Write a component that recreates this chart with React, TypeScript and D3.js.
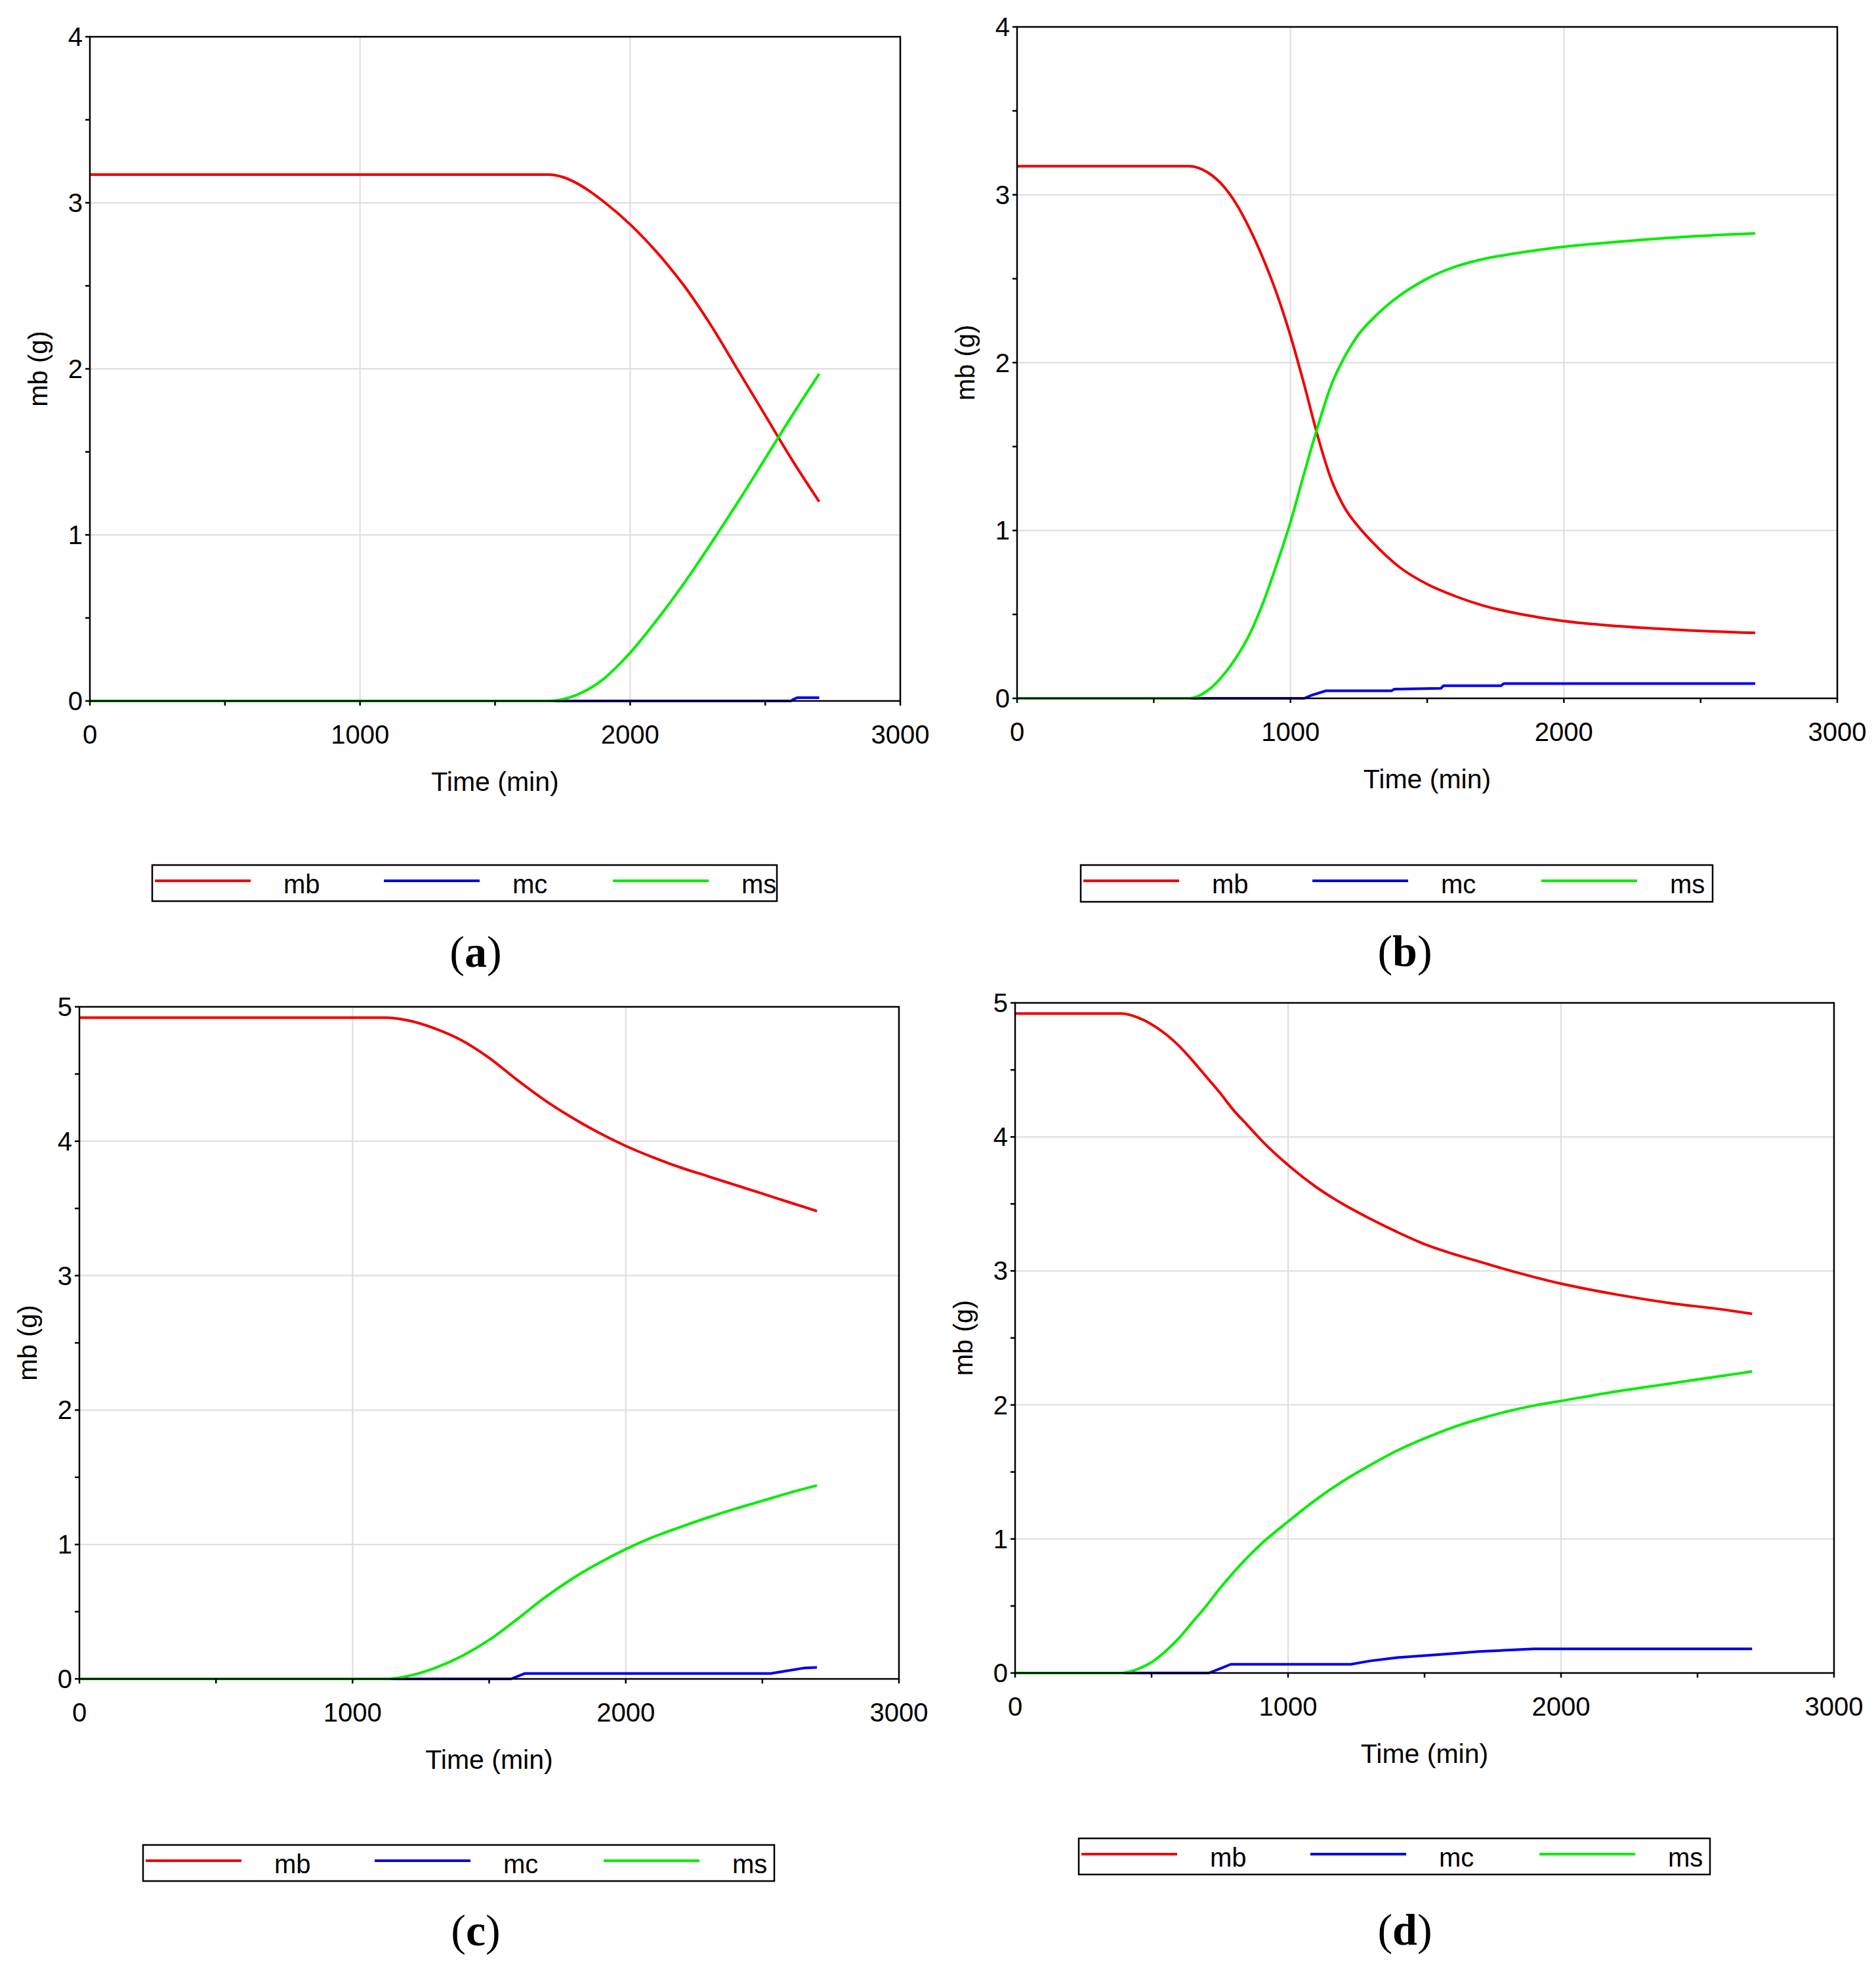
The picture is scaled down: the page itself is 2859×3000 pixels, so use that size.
import * as d3 from "d3";

type Pt = [number, number];

// ---- data (time in min, mass in g) ----
const panelLetters = ["a", "b", "c", "d"];
const seriesNames = ["mb", "mc", "ms"];
const xTickLabels = [0, 1000, 2000, 3000];
const yMaxByPanel = [4, 4, 5, 5];

const mbA: Pt[] = [[0, 3.17], [1700, 3.17], [1750, 3.155], [1800, 3.12], [1850, 3.07], [1900, 3.01], [2000, 2.87], [2100, 2.7], [2200, 2.5], [2300, 2.26], [2400, 1.99], [2500, 1.72], [2600, 1.45], [2700, 1.2]];
const mcA: Pt[] = [[0, 0], [2595, 0], [2605, 0.01], [2620, 0.02], [2700, 0.02]];
const msA: Pt[] = [[0, 0], [1700, 0], [1750, 0.01], [1800, 0.035], [1850, 0.075], [1900, 0.13], [1950, 0.205], [2000, 0.29], [2100, 0.49], [2200, 0.71], [2300, 0.95], [2400, 1.2], [2500, 1.46], [2600, 1.72], [2700, 1.97]];

const mbB: Pt[] = [[0, 3.17], [630, 3.17], [700, 3.13], [750, 3.06], [800, 2.95], [850, 2.8], [900, 2.62], [950, 2.41], [1000, 2.16], [1050, 1.87], [1100, 1.56], [1150, 1.3], [1200, 1.13], [1250, 1.02], [1300, 0.93], [1400, 0.78], [1500, 0.68], [1600, 0.61], [1700, 0.555], [1800, 0.515], [1900, 0.485], [2000, 0.46], [2200, 0.43], [2400, 0.41], [2700, 0.39]];
const mcB: Pt[] = [[0, 0], [1050, 0], [1080, 0.02], [1130, 0.045], [1370, 0.045], [1380, 0.055], [1550, 0.06], [1560, 0.075], [1770, 0.075], [1780, 0.088], [2700, 0.088]];
const msB: Pt[] = [[0, 0], [630, 0], [700, 0.05], [750, 0.13], [800, 0.24], [850, 0.38], [900, 0.57], [950, 0.8], [1000, 1.05], [1050, 1.34], [1100, 1.62], [1150, 1.87], [1200, 2.04], [1250, 2.17], [1300, 2.26], [1400, 2.4], [1500, 2.5], [1600, 2.57], [1700, 2.615], [1800, 2.645], [1900, 2.67], [2000, 2.69], [2200, 2.72], [2400, 2.745], [2700, 2.77]];

const mbC: Pt[] = [[0, 4.92], [1120, 4.92], [1200, 4.9], [1300, 4.84], [1400, 4.75], [1500, 4.62], [1600, 4.46], [1700, 4.31], [1800, 4.18], [1900, 4.065], [2000, 3.965], [2100, 3.88], [2200, 3.805], [2300, 3.74], [2400, 3.675], [2500, 3.61], [2600, 3.545], [2700, 3.48]];
const mcC: Pt[] = [[0, 0], [1580, 0], [1630, 0.04], [2530, 0.04], [2560, 0.05], [2650, 0.08], [2700, 0.085]];
const msC: Pt[] = [[0, 0], [1130, 0], [1200, 0.02], [1300, 0.08], [1400, 0.17], [1500, 0.29], [1600, 0.44], [1700, 0.6], [1800, 0.74], [1900, 0.86], [2000, 0.965], [2100, 1.055], [2200, 1.13], [2300, 1.2], [2400, 1.265], [2500, 1.325], [2600, 1.385], [2700, 1.44]];

const mbD: Pt[] = [[0, 4.92], [390, 4.92], [450, 4.89], [500, 4.84], [550, 4.77], [600, 4.68], [650, 4.57], [700, 4.45], [750, 4.33], [800, 4.2], [850, 4.09], [900, 3.98], [1000, 3.79], [1100, 3.63], [1200, 3.5], [1300, 3.39], [1400, 3.29], [1500, 3.2], [1600, 3.13], [1700, 3.07], [1800, 3.01], [1900, 2.955], [2000, 2.905], [2200, 2.825], [2400, 2.76], [2600, 2.71], [2700, 2.68]];
const mcD: Pt[] = [[0, 0], [710, 0], [760, 0.04], [790, 0.065], [1230, 0.065], [1300, 0.09], [1400, 0.115], [1500, 0.13], [1600, 0.145], [1700, 0.16], [1800, 0.17], [1900, 0.18], [2700, 0.18]];
const msD: Pt[] = [[0, 0], [390, 0], [450, 0.03], [500, 0.08], [550, 0.16], [600, 0.26], [650, 0.38], [700, 0.5], [750, 0.63], [800, 0.75], [850, 0.86], [900, 0.96], [1000, 1.13], [1100, 1.29], [1200, 1.43], [1300, 1.55], [1400, 1.66], [1500, 1.75], [1600, 1.83], [1700, 1.895], [1800, 1.95], [1900, 1.995], [2000, 2.03], [2200, 2.1], [2400, 2.16], [2600, 2.22], [2700, 2.25]];

const seriesByPanel: Pt[][][] = [
  [mbA, mcA, msA],
  [mbB, mcB, msB],
  [mbC, mcC, msC],
  [mbD, mcD, msD],
];

// ---- layout (pixels) ----
const W = 2859;
const H = 3000;
const COLORS = ["#f00000", "#0000f0", "#00ee00"];
const FONT = "'Liberation Sans', Arial, sans-serif";
const SERIF = "'Liberation Serif', 'Times New Roman', serif";

const layout = [
  { l: 137, t: 56, r: 1372, b: 1068, lx: 232, ly: 1318, lw: 952, lh: 55, cx: 725, cy: 1473 },
  { l: 1550, t: 41, r: 2800, b: 1064, lx: 1647, ly: 1318, lw: 963, lh: 56, cx: 2141, cy: 1472 },
  { l: 121, t: 1534, r: 1370, b: 2558, lx: 218, ly: 2811, lw: 962, lh: 55, cx: 725, cy: 2964 },
  { l: 1547, t: 1528, r: 2795, b: 2549, lx: 1644, ly: 2801, lw: 962, lh: 55, cx: 2141, cy: 2963 },
];

function Panel({ idx }: { idx: number }) {
  const L = layout[idx];
  const yMax = yMaxByPanel[idx];
  const x = d3.scaleLinear().domain([0, 3000]).range([L.l, L.r]);
  const y = d3.scaleLinear().domain([0, yMax]).range([L.b, L.t]);

  const smooth = d3.line<Pt>().x(d => x(d[0])).y(d => y(d[1])).curve(d3.curveMonotoneX);
  const steps = d3.line<Pt>().x(d => x(d[0])).y(d => y(d[1]));

  const xGrid = x.ticks(3).filter(v => v > 0 && v < 3000);
  const yGrid = y.ticks(yMax).filter(v => v > 0 && v < yMax);
  const xMinor = d3.range(0, 3001, 500);
  const yMinor = d3.range(0, yMax + 0.01, 0.5);
  const midX = (L.l + L.r) / 2;
  const midY = (L.t + L.b) / 2;

  return (
    <g>
      {/* grid */}
      {xGrid.map(v => (
        <line key={"gx" + v} x1={x(v)} x2={x(v)} y1={L.t} y2={L.b} stroke="#dcdcdc" strokeWidth={2} />
      ))}
      {yGrid.map(v => (
        <line key={"gy" + v} x1={L.l} x2={L.r} y1={y(v)} y2={y(v)} stroke="#dcdcdc" strokeWidth={2} />
      ))}

      {/* series: mb, mc, ms (ms on top) */}
      {seriesByPanel[idx].map((s, i) => (
        <path key={"s" + i} d={(i === 1 ? steps(s) : smooth(s)) ?? ""} fill="none"
          stroke={COLORS[i]} strokeWidth={4} strokeLinejoin="round" />
      ))}

      {/* frame */}
      <rect x={L.l} y={L.t} width={L.r - L.l} height={L.b - L.t} fill="none" stroke="#000" strokeWidth={2.5} />

      {/* ticks */}
      {xMinor.map(v => (
        <line key={"tx" + v} x1={x(v)} x2={x(v)} y1={L.b} y2={L.b + 7} stroke="#000" strokeWidth={2.5} />
      ))}
      {yMinor.map(v => (
        <line key={"ty" + v} x1={L.l - 7} x2={L.l} y1={y(v)} y2={y(v)} stroke="#000" strokeWidth={2.5} />
      ))}

      {/* tick labels */}
      {xTickLabels.map(v => (
        <text key={"lx" + v} x={x(v)} y={L.b + 65} textAnchor="middle" fontFamily={FONT} fontSize={40} fill="#000">{v}</text>
      ))}
      {d3.range(0, yMax + 1).map(v => (
        <text key={"ly" + v} x={L.l - 11} y={y(v) + 14} textAnchor="end" fontFamily={FONT} fontSize={40} fill="#000">{v}</text>
      ))}

      {/* axis titles */}
      <text x={midX} y={L.b + 137} textAnchor="middle" fontFamily={FONT} fontSize={41} fill="#000">Time (min)</text>
      <text transform={`translate(${L.l - 65},${midY}) rotate(-90)`} textAnchor="middle" fontFamily={FONT} fontSize={40} fill="#000">mb (g)</text>

      {/* legend */}
      <rect x={L.lx} y={L.ly} width={L.lw} height={L.lh} fill="#fff" stroke="#000" strokeWidth={2.5} />
      {seriesNames.map((name, i) => {
        const ox = L.lx + 4 + i * 349;
        return (
          <g key={"lg" + name}>
            <line x1={ox} x2={ox + 146} y1={L.ly + 24} y2={L.ly + 24} stroke={COLORS[i]} strokeWidth={4} />
            <text x={ox + 196} y={L.ly + 43} fontFamily={FONT} fontSize={40} fill="#000">{name}</text>
          </g>
        );
      })}

      {/* panel letter: light parentheses, bold letter */}
      <text x={L.cx} y={L.cy} textAnchor="middle" fontFamily={SERIF} fontSize={68} fill="#000">
        (<tspan fontWeight="bold">{panelLetters[idx]}</tspan>)
      </text>
    </g>
  );
}

export default function App() {
  return (
    <svg width={W} height={H} viewBox={`0 0 ${W} ${H}`}
      style={{ position: "absolute", left: 0, top: 0, background: "#fff", display: "block" }}>
      <rect width={W} height={H} fill="#fff" />
      {panelLetters.map((_, i) => <Panel key={i} idx={i} />)}
    </svg>
  );
}
